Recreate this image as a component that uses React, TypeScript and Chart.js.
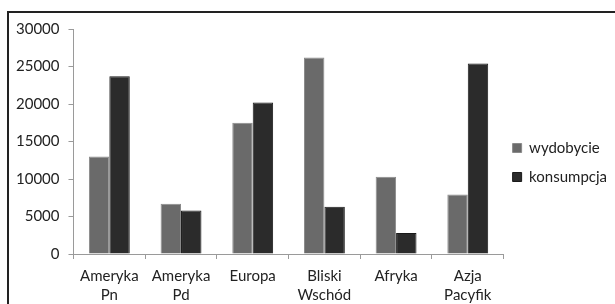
import React, { useEffect, useRef } from "react";
import { Chart, registerables } from "chart.js";

Chart.register(...registerables);

const categories: string[][] = [
  ["Ameryka", "Pn"],
  ["Ameryka", "Pd"],
  ["Europa"],
  ["Bliski", "Wschód"],
  ["Afryka"],
  ["Azja", "Pacyfik"],
];
const wydobycie = [13000, 6700, 17500, 26200, 10300, 7950];
const konsumpcja = [23700, 5800, 20200, 6300, 2800, 25400];
const yTicks = [0, 5000, 10000, 15000, 20000, 25000, 30000];

const FONT = "Lato";

const legendShift = {
  id: "legendShift",
  afterLayout(chart: any) {
    const lg = chart.legend;
    if (!lg) return;
    lg.left -= 5;
    lg.right -= 5;
    lg.top -= 8;
    lg.bottom -= 8;
  },
};

export default function App() {
  const ref = useRef<HTMLCanvasElement | null>(null);
  useEffect(() => {
    if (!ref.current) return;
    const chart = new Chart(ref.current, {
      type: "bar",
      data: {
        labels: categories,
        datasets: [
          {
            label: "wydobycie",
            data: wydobycie,
            backgroundColor: "#6a6a6a",
            borderColor: "#8a8a8a",
            borderWidth: 1,
          },
          {
            label: "konsumpcja",
            data: konsumpcja,
            backgroundColor: "#2b2b2b",
            borderColor: "#1a1a1a",
            borderWidth: 1,
          },
        ],
      },
      options: {
        animation: false,
        responsive: false,
        maintainAspectRatio: false,
        layout: { padding: { top: 29, left: 7, right: 0, bottom: 0 } },
        datasets: { bar: { barPercentage: 1, categoryPercentage: 0.57 } },
        plugins: {
          legend: {
            position: "right",
            labels: {
              boxWidth: 9,
              boxHeight: 9,
              padding: 14,
              color: "#222",
              font: { family: FONT, size: 15 },
            },
          },
          tooltip: { enabled: false },
        },
        scales: {
          x: {
            grid: {
              display: true,
              drawOnChartArea: false,
              drawTicks: true,
              tickLength: 5,
              color: "#9a9a9a",
              offset: true,
            },
            border: { display: true, color: "#9a9a9a" },
            ticks: {
              color: "#222",
              font: { family: FONT, size: 15, lineHeight: 1.3 },
              maxRotation: 0,
              autoSkip: false,
              padding: 7,
            },
          },
          y: {
            min: 0,
            max: 30000,
            afterBuildTicks: (axis: any) => {
              axis.ticks = yTicks.map((v) => ({ value: v }));
            },
            grid: {
              display: true,
              drawOnChartArea: false,
              drawTicks: true,
              tickLength: 5,
              color: "#9a9a9a",
            },
            border: { display: true, color: "#9a9a9a" },
            ticks: {
              color: "#222",
              font: { family: FONT, size: 15 },
              padding: 9,
              callback: (v: any) => String(v),
            },
          },
        },
      },
      plugins: [legendShift],
    });
    return () => chart.destroy();
  }, []);
  return (
    <div style={{ position: "fixed", left: 0, top: 0, width: 615, height: 304, background: "#fff", overflow: "hidden" }}>
      <div
        style={{
          position: "absolute",
          left: 7,
          top: 11,
          width: 640,
          height: 320,
          border: "2px solid #222",
          boxSizing: "border-box",
        }}
      />
      <canvas ref={ref} width={622} height={312} style={{ position: "absolute", left: 0, top: 0 }} />
    </div>
  );
}
